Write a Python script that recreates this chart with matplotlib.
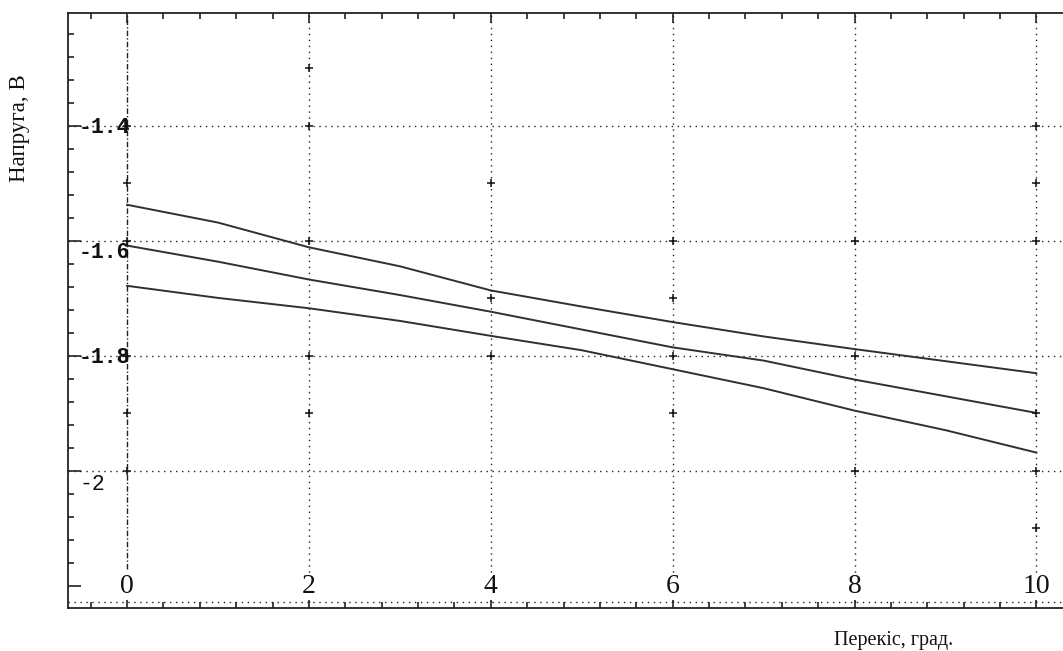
import matplotlib
matplotlib.use("Agg")
import matplotlib.pyplot as plt
import matplotlib.transforms as mtransforms
from matplotlib.ticker import MultipleLocator

# ---- data ----
x_vals = [0, 1, 2, 3, 4, 5, 6, 7, 8, 9, 10]
upper = [-1.537, -1.568, -1.611, -1.644, -1.686, -1.714, -1.741, -1.766, -1.788, -1.809, -1.830]
middle = [-1.608, -1.636, -1.667, -1.694, -1.723, -1.754, -1.785, -1.808, -1.841, -1.870, -1.899]
lower = [-1.678, -1.699, -1.717, -1.739, -1.765, -1.790, -1.823, -1.856, -1.895, -1.929, -1.968]

marker_x = [0, 0, 0, 0, 0, 0,
            2, 2, 2, 2, 2,
            4, 4, 4,
            6, 6, 6, 6,
            8, 8, 8,
            10, 10, 10, 10, 10, 10]
marker_y = [-1.4, -1.5, -1.6, -1.8, -1.9, -2.0,
            -1.3, -1.4, -1.6, -1.8, -1.9,
            -1.5, -1.7, -1.8,
            -1.6, -1.7, -1.8, -1.9,
            -1.6, -1.8, -2.0,
            -1.4, -1.5, -1.6, -1.9, -2.0, -2.1]

x_ticks = [0, 2, 4, 6, 8, 10]
x_tick_labels = ["0", "2", "4", "6", "8", "10"]
y_ticks = [-1.4, -1.6, -1.8, -2.0]
y_tick_labels = ["-1.4", "-1.6", "-1.8", "-2"]

xlabel = "Перекіс, град."
ylabel = "Напруга, В"

# ---- figure ----
W, H = 1063, 651
fig = plt.figure(figsize=(W / 100, H / 100), dpi=100)
ax = fig.add_axes([68 / W, 1 - 608 / H, (W - 68) / W + 0.01, (608 - 13) / H])
ax.set_xlim(-0.65, 10.41)
ax.set_ylim(-2.2383, -1.2035)

for s in ["left", "top", "bottom"]:
    ax.spines[s].set_linewidth(1.3)
    ax.spines[s].set_color("#222222")
ax.spines["right"].set_visible(False)

# grid
grid_kw = dict(color="#222222", linewidth=1.0, dashes=(1, 3.3))
for xv in x_ticks[1:]:
    ax.axvline(xv, **grid_kw, zorder=1)
ax.axvline(0, ymin=(-2.17 + 2.2383) / (2.2383 - 1.2035), ymax=1,
           color="#222222", linewidth=1.0, dashes=(4, 1.5, 1, 1.5), zorder=1)
for yv in y_ticks:
    ax.axhline(yv, **grid_kw, zorder=1)
ax.axhline(-2.2273, **grid_kw, zorder=1)

# curves
for series in (upper, middle, lower):
    ax.plot(x_vals, series, color="#303030", linewidth=1.4, zorder=3)

# markers
ax.plot(marker_x, marker_y, linestyle="none", marker="+", markersize=6,
        markeredgewidth=1.1, color="#111111", zorder=4)

# ticks (inside)
ax.xaxis.set_major_locator(MultipleLocator(2))
ax.xaxis.set_minor_locator(MultipleLocator(0.4))
ax.yaxis.set_major_locator(MultipleLocator(0.2))
ax.yaxis.set_minor_locator(MultipleLocator(0.04))
ax.tick_params(axis="x", which="major", direction="in", length=7, width=1.2,
               top=True, bottom=True, labelbottom=False, color="#222222")
ax.tick_params(axis="x", which="minor", direction="in", length=4, width=1.2,
               top=True, bottom=True, color="#222222")
ax.tick_params(axis="y", which="major", direction="in", length=9, width=1.2,
               left=True, right=False, labelleft=False, color="#222222")
ax.tick_params(axis="y", which="minor", direction="in", length=4, width=1.2,
               left=True, right=False, color="#222222")

# x tick labels inside, near bottom
xtrans = mtransforms.blended_transform_factory(ax.transData, ax.transAxes)
for xv, lab in zip(x_ticks, x_tick_labels):
    ax.text(xv, 0.036, lab, transform=xtrans, ha="center", va="center",
            fontsize=20, family="Liberation Serif", color="#111111",
            bbox=dict(facecolor="white", edgecolor="none", pad=0.5), zorder=5)

# y tick labels inside, near left spine
y_offsets_pt = [-1.4, -8.6, -1.4, -10.0]
y_weights = ["bold", "bold", "bold", "normal"]
ytrans = mtransforms.blended_transform_factory(ax.transAxes, ax.transData)
for yv, lab, off, wt in zip(y_ticks, y_tick_labels, y_offsets_pt, y_weights):
    tr = mtransforms.offset_copy(ytrans, fig=fig, x=0, y=off, units="points")
    ax.text(0.011, yv, lab, transform=tr, ha="left", va="center",
            fontsize=15.5, family="Liberation Mono", fontweight=wt,
            color="#111111", zorder=5)

# axis labels
fig.text(894 / W, 1 - 640 / H, xlabel, ha="center", va="center",
         fontsize=14.5, family="Liberation Serif", color="#111111")
fig.text(20 / W, 1 - 128 / H, ylabel, ha="center", va="center", rotation=90,
         fontsize=16.5, family="Liberation Serif", color="#111111")

fig.savefig("out.png", dpi=100)
